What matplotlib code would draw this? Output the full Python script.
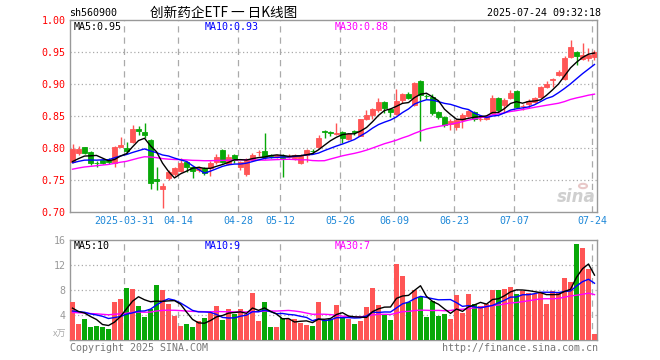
import numpy as np
import pandas as pd
import matplotlib
matplotlib.use("Agg")
import matplotlib.pyplot as plt

plt.rcParams['font.family'] = ['DejaVu Sans Mono', 'Noto Sans CJK SC']

# ---- data ----
opens = [0.778, 0.792, 0.801, 0.794, 0.777, 0.781, 0.782, 0.777, 0.802, 0.800,
         0.809, 0.829, 0.825, 0.812, 0.751, 0.736, 0.753, 0.759, 0.764, 0.778,
         0.770, 0.765, 0.769, 0.769, 0.778, 0.797, 0.775, 0.789, 0.770, 0.759,
         0.781, 0.793, 0.795, 0.789, 0.786, 0.788, 0.786, 0.784, 0.777, 0.789,
         0.796, 0.802, 0.826, 0.825, 0.822, 0.825, 0.814, 0.826, 0.819, 0.845,
         0.852, 0.859, 0.872, 0.861, 0.853, 0.875, 0.884, 0.867, 0.905, 0.882,
         0.880, 0.856, 0.848, 0.838, 0.833, 0.844, 0.850, 0.856, 0.845, 0.846,
         0.855, 0.878, 0.867, 0.878, 0.889, 0.865, 0.869, 0.872, 0.880, 0.895,
         0.907, 0.914, 0.908, 0.942, 0.950, 0.939, 0.941, 0.942]
highs = [0.806, 0.803, 0.802, 0.795, 0.780, 0.783, 0.784, 0.803, 0.817, 0.809,
         0.836, 0.834, 0.839, 0.814, 0.770, 0.745, 0.765, 0.771, 0.785, 0.780,
         0.772, 0.772, 0.771, 0.779, 0.790, 0.798, 0.790, 0.791, 0.780, 0.785,
         0.792, 0.797, 0.823, 0.791, 0.791, 0.790, 0.790, 0.791, 0.791, 0.799,
         0.799, 0.820, 0.828, 0.827, 0.839, 0.827, 0.823, 0.828, 0.846, 0.859,
         0.863, 0.878, 0.874, 0.863, 0.892, 0.886, 0.887, 0.903, 0.906, 0.885,
         0.884, 0.858, 0.850, 0.845, 0.846, 0.854, 0.860, 0.858, 0.848, 0.852,
         0.883, 0.880, 0.878, 0.890, 0.891, 0.869, 0.876, 0.880, 0.897, 0.905,
         0.909, 0.922, 0.943, 0.969, 0.952, 0.964, 0.956, 0.953]
lows = [0.776, 0.789, 0.791, 0.773, 0.770, 0.775, 0.775, 0.771, 0.801, 0.790,
        0.808, 0.821, 0.815, 0.736, 0.734, 0.706, 0.750, 0.756, 0.763, 0.762,
        0.753, 0.762, 0.758, 0.756, 0.775, 0.776, 0.773, 0.777, 0.765, 0.757,
        0.779, 0.788, 0.783, 0.784, 0.784, 0.755, 0.784, 0.782, 0.775, 0.778,
        0.790, 0.800, 0.815, 0.818, 0.820, 0.808, 0.812, 0.820, 0.818, 0.843,
        0.845, 0.857, 0.855, 0.848, 0.851, 0.870, 0.876, 0.865, 0.811, 0.876,
        0.852, 0.845, 0.833, 0.828, 0.828, 0.832, 0.848, 0.842, 0.842, 0.844,
        0.853, 0.857, 0.856, 0.876, 0.862, 0.860, 0.862, 0.870, 0.878, 0.893,
        0.896, 0.912, 0.906, 0.940, 0.929, 0.937, 0.936, 0.937]
closes = [0.798, 0.799, 0.792, 0.777, 0.776, 0.777, 0.778, 0.802, 0.804, 0.795,
          0.830, 0.827, 0.820, 0.745, 0.749, 0.741, 0.762, 0.769, 0.777, 0.770,
          0.764, 0.769, 0.761, 0.777, 0.786, 0.778, 0.786, 0.781, 0.778, 0.783,
          0.789, 0.794, 0.786, 0.788, 0.789, 0.785, 0.787, 0.789, 0.789, 0.797,
          0.795, 0.816, 0.825, 0.824, 0.824, 0.816, 0.822, 0.825, 0.845, 0.852,
          0.861, 0.872, 0.863, 0.857, 0.873, 0.884, 0.878, 0.902, 0.883, 0.881,
          0.855, 0.848, 0.836, 0.842, 0.844, 0.852, 0.858, 0.845, 0.846, 0.850,
          0.878, 0.859, 0.875, 0.886, 0.864, 0.866, 0.873, 0.878, 0.895, 0.900,
          0.908, 0.919, 0.941, 0.958, 0.944, 0.945, 0.945, 0.950]
volumes = [6.1, 2.6, 3.4, 2.1, 2.2, 2.1, 1.8, 6.1, 6.6, 8.3,
           8.2, 5.4, 3.7, 5.0, 8.8, 8.0, 5.8, 3.9, 2.2, 2.5,
           2.1, 3.0, 3.6, 4.4, 5.4, 3.2, 4.9, 4.1, 4.9, 4.2,
           7.5, 3.0, 6.1, 2.1, 2.1, 3.6, 3.3, 3.3, 2.7, 2.4,
           2.2, 6.1, 3.2, 3.3, 5.6, 3.65, 3.4, 2.6, 3.1, 5.3,
           8.3, 5.6, 4.0, 3.2, 12.2, 10.2, 6.1, 8.0, 6.9, 3.7,
           6.2, 3.8, 4.2, 3.4, 7.2, 4.3, 7.4, 5.8, 5.4, 5.8,
           8.0, 8.0, 8.2, 8.5, 7.4, 7.9, 7.5, 7.4, 7.7, 5.8,
           7.9, 7.6, 9.9, 9.3, 15.4, 14.8, 11.4, 1.0]

# closes / volumes before the visible window, only used to start the moving averages
hist_close = [0.742, 0.745, 0.748, 0.744, 0.747, 0.750, 0.752, 0.749, 0.753, 0.755,
              0.752, 0.756, 0.757, 0.780, 0.785, 0.788, 0.786, 0.782, 0.784, 0.783,
              0.776, 0.773, 0.775, 0.778, 0.772, 0.776, 0.772, 0.775, 0.773]
hist_vol = [3.8, 4.2, 5.1, 3.6, 4.4, 4.0, 3.5, 4.8, 5.2, 4.1, 3.9, 4.6, 4.3, 3.7, 4.9,
            5.0, 4.2, 3.8, 4.5, 4.0, 3.6, 4.4, 4.7, 3.9, 4.3, 5.3, 4.6, 4.9, 4.6]

tick_idx = [9, 18, 28, 35, 45, 54, 64, 74, 87]
tick_labels = ['2025-03-31', '04-14', '04-28', '05-12', '05-26', '06-09', '06-23', '07-07', '07-24']
price_ticks = [0.70, 0.75, 0.80, 0.85, 0.90, 0.95, 1.00]
vol_ticks = [4, 8, 12, 16]

RED = '#ff5555'
GREEN = '#08a808'
GRID = '#aaaaaa'

n = len(closes)
x = np.arange(n)
o = np.array(opens); h = np.array(highs); l = np.array(lows); c = np.array(closes)
v = np.array(volumes)
colors = [RED if cc >= oo else GREEN for oo, cc in zip(o, c)]

cs = pd.Series(hist_close + closes)
vs = pd.Series(hist_vol + volumes)
k = len(hist_close)
ma = {w: cs.rolling(w, min_periods=1).mean().values[k:] for w in (5, 10, 30)}
vma = {w: vs.rolling(w, min_periods=1).mean().values[k:] for w in (5, 10, 30)}

W, H = 660, 360
fig = plt.figure(figsize=(6.6, 3.6), dpi=100)

def box(x0, y0, x1, y1):
    return [x0 / W, 1 - y1 / H, (x1 - x0) / W, (y1 - y0) / H]

def ftext(px, py, s, **kw):
    fig.text(px / W, 1 - py / H, s, **kw)

ax = fig.add_axes(box(70, 20, 597, 212))
axv = fig.add_axes(box(70, 240, 597, 340))
xlim = ((70 - 72.5) / 6, (597 - 72.5) / 6)
grid_x = [t - 0.4 for t in tick_idx]

for a in (ax, axv):
    a.set_xlim(*xlim)
    for s in a.spines.values():
        s.set_color('#999999')
        s.set_linewidth(1)
    for gx in grid_x:
        a.axvline(gx, color=GRID, lw=0.9, ls=(0, (5, 4)), zorder=0)
    a.tick_params(length=0)

# price panel
ax.set_ylim(0.70, 1.00)
for p in price_ticks[1:-1]:
    ax.axhline(p, color=GRID, lw=0.9, ls=(0, (1, 2)), zorder=0)
ax.vlines(x, l, h, colors=colors, lw=1, zorder=2)
ax.bar(x, np.abs(c - o), bottom=np.minimum(o, c), width=0.8, color=colors,
       edgecolor=colors, linewidth=0.6, zorder=3)
ax.plot(x, ma[30], color='#ff00ff', lw=1, zorder=4)
ax.plot(x, ma[10], color='#0000ff', lw=1, zorder=4)
ax.plot(x, ma[5], color='black', lw=1, zorder=4)
ax.set_yticks(price_ticks)
ax.set_yticklabels(['%.2f' % p for p in price_ticks], color='red', fontsize=7.2)
ax.tick_params(axis='y', pad=3)
ax.set_xticks(grid_x)
ax.set_xticklabels(tick_labels, color='#1e88d8', fontsize=7.2)
ax.tick_params(axis='x', pad=3)

# volume panel
axv.set_ylim(0, 16)
for q in vol_ticks[:-1]:
    axv.axhline(q, color=GRID, lw=0.9, ls=(0, (1, 2)), zorder=0)
axv.bar(x, v, width=0.82, color=colors, linewidth=0, zorder=3)
axv.plot(x, vma[30], color='#ff00ff', lw=1, zorder=4)
axv.plot(x, vma[10], color='#0000ff', lw=1, zorder=4)
axv.plot(x, vma[5], color='black', lw=1, zorder=4)
axv.set_yticks(vol_ticks)
axv.set_yticklabels([str(q) for q in vol_ticks], color='#999999', fontsize=7.2)
axv.tick_params(axis='y', pad=3)
axv.set_xticks([])

# watermark
ftext(596, 197, 'sina', fontsize=12, fontweight='bold', style='italic', color='#cfcfcf',
      ha='right', va='center', family='DejaVu Sans', zorder=1)
fig.patches.append(plt.Circle((583 / W, 1 - 186 / H), 4 / W, transform=fig.transFigure,
                              fill=False, edgecolor='#e8c8c8', lw=1.5))

# texts
ftext(69, 13, 'sh560900', fontsize=7.2, va='center', ha='left')
ftext(224, 13, '创新药企ETF 一 日K线图', fontsize=9.8, va='center', ha='center',
      family=['Noto Sans CJK SC', 'DejaVu Sans'])
ftext(601, 13, '2025-07-24 09:32:18', fontsize=7.2, va='center', ha='right')

ftext(74, 27, 'MA5:%.2f' % ma[5][-1], fontsize=7.2, va='center', color='black')
ftext(205, 27, 'MA10:%.2f' % ma[10][-1], fontsize=7.2, va='center', color='#0000ff')
ftext(335, 27, 'MA30:%.2f' % ma[30][-1], fontsize=7.2, va='center', color='#ff00ff')
ftext(74, 246, 'MA5:%d' % round(vma[5][-1]), fontsize=7.2, va='center', color='black')
ftext(205, 246, 'MA10:%d' % round(vma[10][-1]), fontsize=7.2, va='center', color='#0000ff')
ftext(335, 246, 'MA30:%d' % round(vma[30][-1]), fontsize=7.2, va='center', color='#ff00ff')

ftext(66, 334, 'x万', fontsize=6.5, va='center', ha='right', color='#aaaaaa',
      family=['Noto Sans CJK SC', 'DejaVu Sans'])
ftext(70, 348, 'Copyright 2025 SINA.COM', fontsize=7.2, va='center', ha='left', color='#777777')
ftext(598, 348, 'http://finance.sina.com.cn', fontsize=7.2, va='center', ha='right', color='#777777')

fig.savefig('out.png', dpi=100)
